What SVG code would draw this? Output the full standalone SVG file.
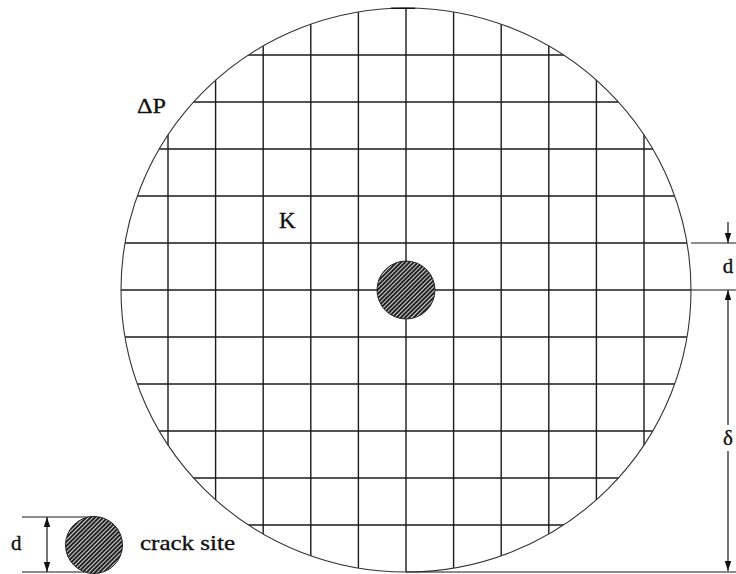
<svg xmlns="http://www.w3.org/2000/svg" width="736" height="574" viewBox="0 0 736 574">
<style>
.grid{stroke:#1a1a1a;stroke-width:1.4;fill:none}
.outline{stroke:#333;stroke-width:1.1;fill:none}
.dim{stroke:#1a1a1a;stroke-width:1.2;fill:none}
.lbl{font-family:'Liberation Serif','Times New Roman',Times,serif;fill:#111;stroke:#111;stroke-width:0.35}
.hatch{fill:url(#hatch);stroke:#222;stroke-width:1}
</style>
<defs>
<pattern id="hatch" patternUnits="userSpaceOnUse" width="3" height="3" patternTransform="rotate(45)">
<rect width="3" height="3" fill="#ddd"/>
<line x1="1" y1="0" x2="1" y2="3" stroke="#222" stroke-width="2.1"/>
</pattern>
<clipPath id="disk"><ellipse cx="406" cy="290" rx="285" ry="282"/></clipPath>
<marker id="arr" viewBox="0 0 10 10" refX="10" refY="5" markerWidth="10" markerHeight="10" markerUnits="userSpaceOnUse" orient="auto">
<path d="M0,1.8 L10,5 L0,8.2 Z" fill="#111"/>
</marker>
</defs>
<rect width="736" height="574" fill="#fff"/>

<g id="disk-grid" clip-path="url(#disk)">
<g class="grid">
<line x1="168" y1="0" x2="168" y2="574"/>
<line x1="215.6" y1="0" x2="215.6" y2="574"/>
<line x1="263.2" y1="0" x2="263.2" y2="574"/>
<line x1="310.8" y1="0" x2="310.8" y2="574"/>
<line x1="358.4" y1="0" x2="358.4" y2="574"/>
<line x1="406" y1="0" x2="406" y2="574"/>
<line x1="453.6" y1="0" x2="453.6" y2="574"/>
<line x1="501.2" y1="0" x2="501.2" y2="574"/>
<line x1="548.8" y1="0" x2="548.8" y2="574"/>
<line x1="596.4" y1="0" x2="596.4" y2="574"/>
<line x1="644" y1="0" x2="644" y2="574"/>
<line x1="100" y1="55" x2="720" y2="55"/>
<line x1="100" y1="102" x2="720" y2="102"/>
<line x1="100" y1="149" x2="720" y2="149"/>
<line x1="100" y1="196" x2="720" y2="196"/>
<line x1="100" y1="243" x2="720" y2="243"/>
<line x1="100" y1="290" x2="720" y2="290"/>
<line x1="100" y1="337" x2="720" y2="337"/>
<line x1="100" y1="384" x2="720" y2="384"/>
<line x1="100" y1="431" x2="720" y2="431"/>
<line x1="100" y1="478" x2="720" y2="478"/>
<line x1="100" y1="525" x2="720" y2="525"/>
</g>
</g>

<g id="disk-outline">
<ellipse class="outline" cx="406" cy="290" rx="285" ry="282"/>
<line x1="391" y1="8.3" x2="415" y2="8.3" stroke="#111" stroke-width="1.4"/>
</g>

<g id="center-crack">
<circle class="hatch" cx="406" cy="290" r="29"/>
</g>

<g id="labels">
<text class="lbl" x="137" y="113" font-size="22" textLength="29" lengthAdjust="spacingAndGlyphs">ΔP</text>
<text class="lbl" x="279" y="228" font-size="23">K</text>
</g>

<g id="connectors">
<line class="dim" x1="691" y1="243" x2="736" y2="243"/>
<line class="dim" x1="691" y1="290" x2="736" y2="290"/>
<line class="dim" x1="406" y1="572" x2="736" y2="572"/>
<line class="dim" x1="728" y1="222" x2="728" y2="243" marker-end="url(#arr)"/>
<line class="dim" x1="728" y1="425" x2="728" y2="290" marker-end="url(#arr)"/>
<line class="dim" x1="728" y1="451" x2="728" y2="571" marker-end="url(#arr)"/>
<line class="dim" x1="22" y1="517" x2="94" y2="517"/>
<line class="dim" x1="22" y1="572" x2="94" y2="572"/>
<line class="dim" x1="47" y1="545" x2="47" y2="517" marker-end="url(#arr)"/>
<line class="dim" x1="47" y1="545" x2="47" y2="572" marker-end="url(#arr)"/>
</g>

<g id="dimension-labels">
<text class="lbl" x="728" y="273" font-size="21" text-anchor="middle">d</text>
<text class="lbl" x="728" y="445" font-size="21" text-anchor="middle">δ</text>
</g>

<g id="legend">
<circle class="hatch" cx="94" cy="545" r="28.5"/>
<text class="lbl" x="11" y="550" font-size="21">d</text>
<text class="lbl" x="140" y="550" font-size="22" textLength="95" lengthAdjust="spacingAndGlyphs">crack site</text>
</g>
</svg>
